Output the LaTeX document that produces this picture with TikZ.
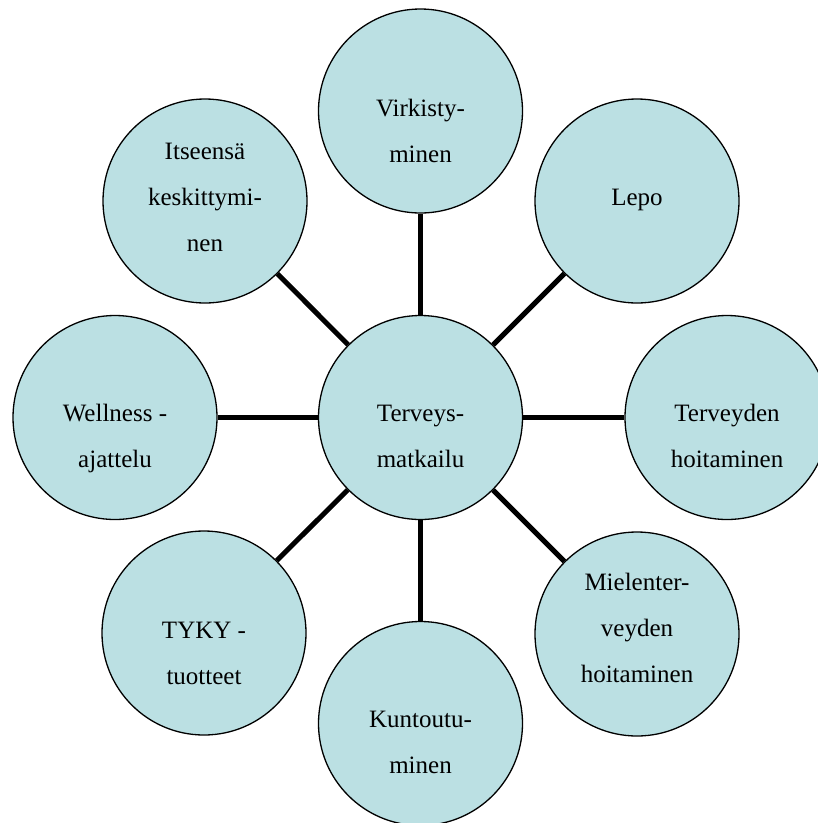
\documentclass[tikz,border=0pt]{standalone}
\usepackage{fontspec}
\setmainfont{Liberation Serif}
\usetikzlibrary{calc}
\definecolor{bubble}{RGB}{187,224,227}
\begin{document}
\begin{tikzpicture}[x=1pt,y=-1pt,
  bub/.style={circle,draw=black,line width=1.3pt,fill=bubble,minimum size=204pt,inner sep=0pt},
  link/.style={draw=black,line width=5pt},
  lbl/.style={anchor=base,inner sep=0pt,font=\fontsize{25}{46}\selectfont}]
\useasboundingbox (0,0) rectangle (818,823);
\node[bub] (c) at (420.5,417.5) {};
\node[bub] (n)  at (420.5,111) {};
\node[bub] (ne) at (637,201) {};
\node[bub] (e)  at (727,417.5) {};
\node[bub] (se) at (637,634) {};
\node[bub] (s)  at (420.5,723.5) {};
\node[bub] (sw) at (204,633) {};
\node[bub] (w)  at (115,417.5) {};
\node[bub] (nw) at (205,201) {};
\foreach \t in {n,ne,e,se,s,sw,w,nw} \draw[link] (c) -- (\t);
\newcommand{\lines}[1]{\begin{tabular}[t]{@{}c@{}}#1\end{tabular}}
\node[lbl] (tc)  at ($(c)+(0,4)$)  {\lines{Terveys-\\matkailu}};
\node[lbl] (tn)  at ($(n)+(0,5)$)  {\lines{Virkisty-\\minen}};
\node[lbl] (tne) at ($(ne)+(0,4)$) {\lines{Lepo}};
\node[lbl] (te)  at ($(e)+(0,4)$)  {\lines{Terveyden\\hoitaminen}};
\node[lbl] (tse) at ($(se)+(0,-44)$) {\lines{Mielenter-\\veyden\\hoitaminen}};
\node[lbl] (ts)  at ($(s)+(0,4)$)  {\lines{Kuntoutu-\\minen}};
\node[lbl] (tsw) at ($(sw)+(0,5)$) {\lines{TYKY -\\tuotteet}};
\node[lbl] (tw)  at ($(w)+(0,4)$)  {\lines{Wellness -\\ajattelu}};
\node[lbl] (tnw) at ($(nw)+(0,-42)$) {\lines{Itseensä\\keskittymi-\\nen}};
\end{tikzpicture}
\end{document}
